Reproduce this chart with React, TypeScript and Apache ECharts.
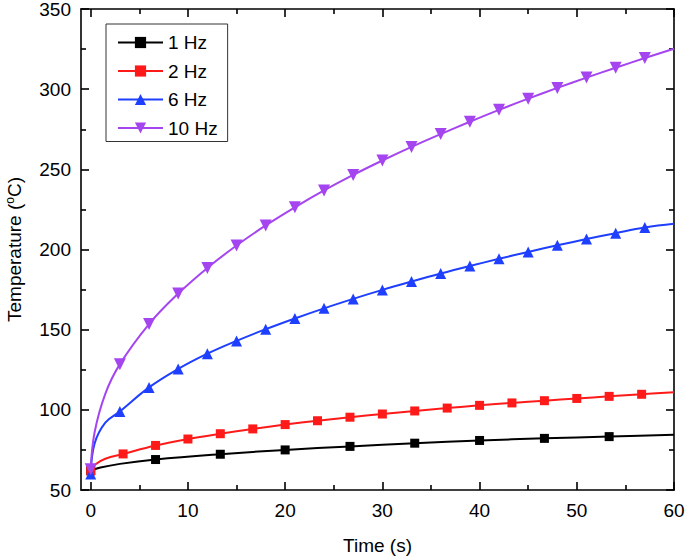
import React, { useEffect, useRef } from "react";
import * as echarts from "echarts";

// Marker points and extra curve points without markers
const xMarks1 = [0, 6.67, 13.33, 20, 26.67, 33.33, 40, 46.67, 53.33];
const yMarks1 = [62, 69, 72.3, 75, 77.2, 79.2, 80.9, 82.2, 83.3];
const xLine1 = [1, 3, 60];
const yLine1 = [64, 66.3, 84.4];

const xMarks2 = [0, 3.33, 6.67, 10, 13.33, 16.67, 20, 23.33, 26.67, 30, 33.33, 36.67, 40, 43.33, 46.67, 50, 53.33, 56.67];
const yMarks2 = [62, 72.5, 77.8, 81.8, 85.1, 88.1, 90.8, 93.2, 95.4, 97.4, 99.3, 101.1, 102.8, 104.3, 105.7, 107.1, 108.4, 109.7];
const xLine2 = [0.5, 1.5, 60];
const yLine2 = [66, 69.5, 111];

const xMarks6 = [0, 3, 6, 9, 12, 15, 18, 21, 24, 27, 30, 33, 36, 39, 42, 45, 48, 51, 54, 57];
const yMarks6 = [60, 99, 114, 125.5, 135, 143, 150.3, 157, 163.3, 169.2, 174.8, 180, 185, 189.7, 194.2, 198.5, 202.6, 206.5, 210.2, 213.7];
const xLine6 = [0.4, 1.5, 60];
const yLine6 = [79, 92, 216];

const xMarks10 = [0, 3, 6, 9, 12, 15, 18, 21, 24, 27, 30, 33, 36, 39, 42, 45, 48, 51, 54, 57];
const yMarks10 = [63, 128.5, 153.5, 172.5, 188.5, 202.5, 215, 226.3, 236.8, 246.5, 255.5, 264, 272, 279.7, 287.1, 294.1, 300.8, 307.2, 313.4, 319.4];
const xLine10 = [0.4, 1.5, 60];
const yLine10 = [86, 110, 325.2];

const seriesNames = ["1 Hz", "2 Hz", "6 Hz", "10 Hz"];
const xMajorTicks = [0, 10, 20, 30, 40, 50, 60];
const xMinorTicks = [5, 15, 25, 35, 45, 55];

function buildData(xm: number[], ym: number[], xl: number[], yl: number[]) {
  const pts: any[] = [];
  xm.forEach((x, i) => pts.push({ value: [x, ym[i]] }));
  xl.forEach((x, i) => pts.push({ value: [x, yl[i]], symbol: "none" }));
  pts.sort((a, b) => a.value[0] - b.value[0]);
  return pts;
}

const FONT = "Liberation Sans";

export default function App() {
  const ref = useRef<HTMLDivElement>(null);
  useEffect(() => {
    if (!ref.current) return;
    const chart = echarts.init(ref.current, null, { renderer: "svg" });
    const axisLineStyle = { color: "#000", width: 1.6 };
    const mkX = (position: string, ticks: number[], len: number, line: boolean, labels: boolean, name?: string) => ({
      type: "value",
      position,
      min: -1,
      max: 60,
      gridIndex: 0,
      name: name || "",
      nameLocation: "middle",
      nameGap: 46,
      nameTextStyle: { fontFamily: FONT, fontSize: 19, color: "#000" },
      axisLine: { show: line, onZero: false, lineStyle: axisLineStyle },
      axisTick: { show: true, inside: true, length: len, customValues: ticks, lineStyle: { color: "#000", width: 1.6 } },
      axisLabel: labels
        ? { show: true, customValues: xMajorTicks, fontFamily: FONT, fontSize: 19, color: "#000", margin: 11 }
        : { show: false },
      splitLine: { show: false },
    });
    const mkY = (position: string, labels: boolean, name?: string) => ({
      type: "value",
      position,
      min: 50,
      max: 350,
      interval: 50,
      name: name || "",
      nameLocation: "middle",
      nameGap: 57,
      nameTextStyle: {
        fontFamily: FONT,
        fontSize: 19,
        color: "#000",
        rich: { sup: { fontFamily: FONT, fontSize: 12, color: "#000", verticalAlign: "top", padding: [0, 0, 8, 0] } },
      },
      axisLine: { show: true, onZero: false, lineStyle: axisLineStyle },
      axisTick: { show: true, inside: true, length: 8, lineStyle: { color: "#000", width: 1.6 } },
      minorTick: { show: true, splitNumber: 2, length: 5, lineStyle: { color: "#000", width: 1.6 } },
      axisLabel: labels ? { show: true, fontFamily: FONT, fontSize: 19, color: "#000", margin: 10 } : { show: false },
      splitLine: { show: false },
      minorSplitLine: { show: false },
    });

    const colors = ["#000000", "#ff1a1a", "#1f3fff", "#a545f0"];
    const symbols = ["rect", "rect", "triangle", "triangle"];
    const sizes = [9, 9, 11, 12];
    const rotates = [0, 0, 0, 180];
    const datas = [
      buildData(xMarks1, yMarks1, xLine1, yLine1),
      buildData(xMarks2, yMarks2, xLine2, yLine2),
      buildData(xMarks6, yMarks6, xLine6, yLine6),
      buildData(xMarks10, yMarks10, xLine10, yLine10),
    ];

    chart.setOption({
      animation: false,
      grid: { left: 81, right: 11, top: 9, bottom: 67, containLabel: false, outerBoundsMode: "none" },
      legend: {
        left: 106,
        top: 24,
        orient: "vertical",
        data: seriesNames,
        itemWidth: 45,
        itemHeight: 14,
        itemGap: 9.5,
        padding: [9, 10, 4, 11],
        borderColor: "#333",
        borderWidth: 1,
        backgroundColor: "#fff",
        textStyle: { fontFamily: FONT, fontSize: 19, color: "#000" },
      },
      xAxis: [
        mkX("bottom", xMajorTicks, 8, true, true, "Time (s)"),
        mkX("bottom", xMinorTicks, 5, false, false),
        mkX("top", xMajorTicks, 8, true, false),
        mkX("top", xMinorTicks, 5, false, false),
      ],
      yAxis: [mkY("left", true, "Temperature ({sup|o}C)"), mkY("right", false)],
      series: seriesNames.map((name, i) => ({
        name,
        type: "line",
        xAxisIndex: 0,
        yAxisIndex: 0,
        data: datas[i],
        smooth: 0.4,
        symbol: symbols[i],
        symbolSize: sizes[i],
        symbolRotate: rotates[i],
        showAllSymbol: true,
        color: colors[i],
        lineStyle: { color: colors[i], width: 2 },
        itemStyle: { color: colors[i] },
        z: 2 + i,
      })),
    });
    return () => chart.dispose();
  }, []);
  return <div ref={ref} style={{ position: "absolute", left: 0, top: 0, width: 685, height: 557 }} />;
}
